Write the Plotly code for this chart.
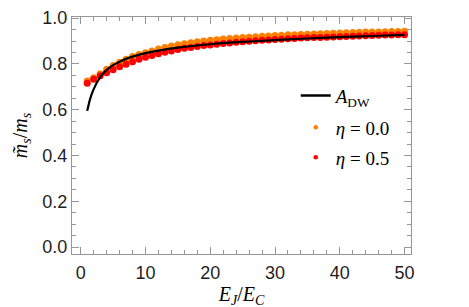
import plotly.graph_objects as go

# E_J / E_C
x_pts = list(range(1, 51))

# eta = 0.0 (orange)
y_eta00 = [0.725, 0.740, 0.757, 0.777, 0.793, 0.807, 0.820, 0.832, 0.841, 0.849,
           0.857, 0.865, 0.872, 0.878, 0.884, 0.888, 0.893, 0.897, 0.900, 0.903,
           0.906, 0.909, 0.911, 0.913, 0.915, 0.917, 0.919, 0.921, 0.922, 0.924,
           0.925, 0.927, 0.928, 0.929, 0.930, 0.931, 0.932, 0.933, 0.934, 0.935,
           0.936, 0.937, 0.938, 0.939, 0.940, 0.940, 0.941, 0.942, 0.942, 0.943]

# eta = 0.5 (red)
y_eta05 = [0.716, 0.733, 0.748, 0.762, 0.775, 0.788, 0.799, 0.810, 0.820, 0.829,
           0.837, 0.845, 0.851, 0.857, 0.863, 0.868, 0.872, 0.876, 0.880, 0.883,
           0.886, 0.889, 0.892, 0.895, 0.897, 0.899, 0.901, 0.903, 0.905, 0.907,
           0.908, 0.910, 0.911, 0.913, 0.914, 0.915, 0.916, 0.917, 0.918, 0.919,
           0.920, 0.921, 0.922, 0.923, 0.924, 0.925, 0.926, 0.926, 0.927, 0.928]

# A_DW curve
x_adw = [1, 1.5, 2, 3, 4, 5, 6, 7, 8, 10, 12, 15, 20, 25, 30, 35, 40, 45, 50]
y_adw = [0.595, 0.652, 0.690, 0.742, 0.774, 0.795, 0.810, 0.822, 0.832, 0.847,
         0.858, 0.871, 0.886, 0.896, 0.904, 0.911, 0.917, 0.922, 0.927]

x_ticks = [0, 10, 20, 30, 40, 50]
y_ticks = [0.0, 0.2, 0.4, 0.6, 0.8, 1.0]
y_tick_text = ["0.0", "0.2", "0.4", "0.6", "0.8", "1.0"]

ORANGE = "rgb(255,128,0)"
RED = "rgb(255,0,0)"
SERIF = "Liberation Serif, Times New Roman, serif"
SANS = "Liberation Sans, Arial, sans-serif"

fig = go.Figure()

fig.add_trace(go.Scatter(x=x_pts, y=y_eta00, mode="markers",
                         marker=dict(color=ORANGE, size=7), showlegend=False))
fig.add_trace(go.Scatter(x=x_pts, y=y_eta05, mode="markers",
                         marker=dict(color=RED, size=7), showlegend=False))
fig.add_trace(go.Scatter(x=x_adw, y=y_adw, mode="lines", line=dict(color="black", width=2.2),
                         line_shape="spline", showlegend=False))

# legend entries
fig.add_trace(go.Scatter(x=[None], y=[None], mode="lines", line=dict(color="black", width=2.5),
                         name="<i>A</i><sub>DW</sub>", legend="legend"))
fig.add_trace(go.Scatter(x=[None], y=[None], mode="markers", marker=dict(color=ORANGE, size=4.5),
                         name="<i>η</i> = 0.0", legend="legend2"))
fig.add_trace(go.Scatter(x=[None], y=[None], mode="markers", marker=dict(color=RED, size=4.5),
                         name="<i>η</i> = 0.5", legend="legend3"))

leg_common = dict(bgcolor="rgba(0,0,0,0)", font=dict(family=SERIF, size=19, color="black"),
                  xanchor="left", yanchor="middle", itemwidth=30)
fig.update_layout(
    legend=dict(x=0.66, y=0.668, **leg_common),
    legend2=dict(x=0.66, y=0.534, **leg_common),
    legend3=dict(x=0.66, y=0.408, **leg_common),
)

axis_common = dict(showline=True, linecolor="rgb(150,150,150)", linewidth=1, mirror="ticks",
                   ticks="inside", tickcolor="rgb(150,150,150)", tickwidth=1,
                   showgrid=False, zeroline=False, automargin=False,
                   ticklabeloverflow="allow",
                   tickfont=dict(family=SANS, size=18, color="rgb(30,30,30)"))

fig.update_xaxes(range=[-1.35, 51.0], tickvals=x_ticks, ticklen=7, ticklabelstandoff=2,
                 minor=dict(ticks="inside", dtick=2, ticklen=4, tickcolor="rgb(150,150,150)"),
                 title=dict(text="<i>E</i><sub><i>J</i></sub>/<i>E</i><sub><i>C</i></sub>",
                            font=dict(family=SERIF, size=20, color="black"), standoff=0),
                 **axis_common)
fig.update_yaxes(range=[-0.03, 1.005], tickvals=y_ticks, ticktext=y_tick_text, ticklen=7,
                 minor=dict(ticks="inside", dtick=0.05, ticklen=4, tickcolor="rgb(150,150,150)"),
                 title=dict(text="<i>m\u0303</i><sub><i>s</i></sub>/<i>m</i><sub><i>s</i></sub>",
                            font=dict(family=SERIF, size=20, color="black"), standoff=9),
                 **axis_common)

fig.update_layout(template="none", width=469, height=307,
                  margin=dict(l=64, r=66, t=9, b=61),
                  plot_bgcolor="white", paper_bgcolor="white")

fig.write_html("out.html")
